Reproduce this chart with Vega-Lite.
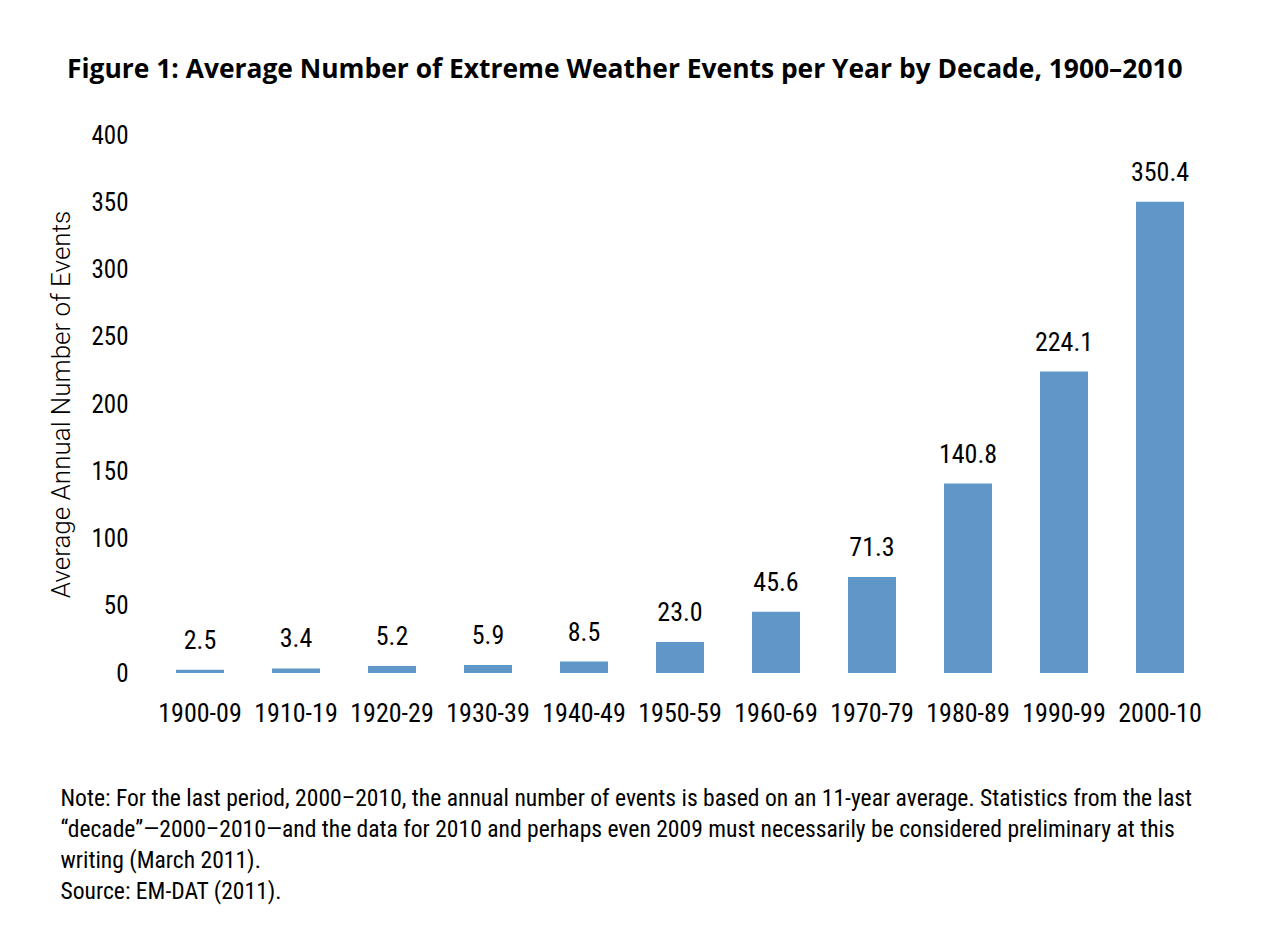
{
  "$schema": "https://vega.github.io/schema/vega-lite/v6.json",
  "autosize": "none",
  "width": 1056,
  "height": 538,
  "padding": {"left": 152, "top": 135, "right": 53, "bottom": 263},
  "background": "white",
  "title": {
    "text": "Figure 1: Average Number of Extreme Weather Events per Year by Decade, 1900–2010",
    "anchor": "start",
    "frame": "group",
    "dx": -85,
    "offset": 40,
    "font": "Open Sans",
    "fontWeight": "bold",
    "fontSize": 26.4,
    "color": "#000000"
  },
  "data": {
    "values": [
      {"decade": "1900-09", "events": 2.5},
      {"decade": "1910-19", "events": 3.4},
      {"decade": "1920-29", "events": 5.2},
      {"decade": "1930-39", "events": 5.9},
      {"decade": "1940-49", "events": 8.5},
      {"decade": "1950-59", "events": 23.0},
      {"decade": "1960-69", "events": 45.6},
      {"decade": "1970-79", "events": 71.3},
      {"decade": "1980-89", "events": 140.8},
      {"decade": "1990-99", "events": 224.1},
      {"decade": "2000-10", "events": 350.4}
    ]
  },
  "encoding": {
    "x": {
      "field": "decade",
      "type": "ordinal",
      "sort": null,
      "scale": {"paddingInner": 0.5, "paddingOuter": 0.25},
      "axis": {
        "title": [
          "Note: For the last period, 2000–2010, the annual number of events is based on an 11-year average. Statistics from the last",
          "“decade”—2000–2010—and the data for 2010 and perhaps even 2009 must necessarily be considered preliminary at this",
          "writing (March 2011).",
          "Source: EM-DAT (2011)."
        ],
        "titleX": -92,
        "titleY": 113,
        "titleAlign": "left",
        "titleBaseline": "top",
        "titleAngle": 0,
        "titleFont": "Roboto Condensed",
        "titleFontSize": 23.6,
        "titleFontWeight": "normal",
        "titleColor": "#000000",
        "titleLineHeight": 31,
        "labelAngle": 0,
        "labelFont": "Roboto Condensed",
        "labelFontSize": 26,
        "labelColor": "#000000",
        "labelPadding": 27,
        "ticks": false,
        "domain": false
      }
    },
    "y": {
      "field": "events",
      "type": "quantitative",
      "scale": {"domain": [0, 400]},
      "axis": {
        "values": [0, 50, 100, 150, 200, 250, 300, 350, 400],
        "title": "Average Annual Number of Events",
        "titleFont": "Roboto",
        "titleFontWeight": 300,
        "titleFontSize": 26,
        "titleColor": "#000000",
        "titlePadding": 16,
        "labelFont": "Roboto Condensed",
        "labelFontSize": 25,
        "labelColor": "#000000",
        "labelPadding": 24,
        "ticks": false,
        "domain": false,
        "grid": false
      }
    }
  },
  "layer": [
    {"mark": {"type": "bar", "color": "#5F97C9"}},
    {
      "mark": {"type": "text", "baseline": "bottom", "dy": -16, "font": "Roboto Condensed", "fontSize": 26, "color": "#000000"},
      "encoding": {"text": {"field": "events", "type": "quantitative", "format": ".1f"}}
    }
  ],
  "config": {"view": {"stroke": null}}
}
